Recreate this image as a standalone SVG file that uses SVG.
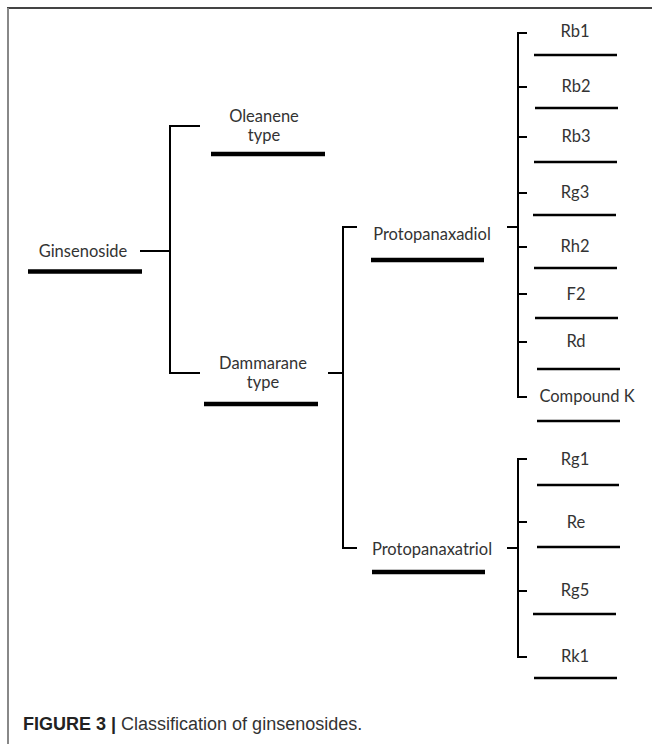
<svg xmlns="http://www.w3.org/2000/svg" width="652" height="744" viewBox="0 0 652 744">
<style>
.lbl{font-family:Lato,"Open Sans","DejaVu Sans",sans-serif;font-size:16.5px;fill:#333;text-anchor:middle}
.bar{stroke:#000;stroke-width:4.5;fill:none}
.leaf{stroke:#000;stroke-width:2.5;fill:none}
.con{stroke:#000;stroke-width:2;fill:none}
.cap{font-family:"Liberation Sans",Arial,sans-serif;font-size:18px;fill:#333}
</style>
<rect width="652" height="744" fill="#fff"/>
<line x1="7" y1="8" x2="652" y2="8" stroke="#444" stroke-width="2"/>
<line x1="8" y1="8" x2="8" y2="744" stroke="#888" stroke-width="2"/>

<g id="connectors">
<path class="con" d="M140,251H170M200,126H170V373H200"/>
<path class="con" d="M328,373H343M357,227H343V548H357"/>
<path class="con" d="M507,227H518M527,33H518V397H527M518,87H527M518,137H527M518,193H527M518,247H527M518,294H527M518,342H527"/>
<path class="con" d="M507,548H518M527,459H518V657H527M518,522H527M518,591H527"/>
</g>

<g id="ginsenoside"><text class="lbl" x="83" y="257">Ginsenoside</text><line class="bar" x1="28" y1="271.5" x2="142" y2="271.5"/></g>
<g id="oleanene"><text class="lbl" x="264" y="122">Oleanene</text><text class="lbl" x="264" y="141">type</text><line class="bar" x1="211" y1="154" x2="325" y2="154"/></g>
<g id="dammarane"><text class="lbl" x="263" y="369">Dammarane</text><text class="lbl" x="263" y="388">type</text><line class="bar" x1="204" y1="404" x2="318" y2="404"/></g>
<g id="ppd"><text class="lbl" x="432" y="240">Protopanaxadiol</text><line class="bar" x1="371" y1="260" x2="484" y2="260"/></g>
<g id="ppt"><text class="lbl" x="432" y="555">Protopanaxatriol</text><line class="bar" x1="372" y1="572" x2="485" y2="572"/></g>

<g id="rb1"><text class="lbl" x="575" y="37">Rb1</text><line class="leaf" x1="534" y1="55" x2="617" y2="55"/></g>
<g id="rb2"><text class="lbl" x="576" y="92">Rb2</text><line class="leaf" x1="535" y1="108" x2="618" y2="108"/></g>
<g id="rb3"><text class="lbl" x="576" y="142">Rb3</text><line class="leaf" x1="534" y1="162" x2="617" y2="162"/></g>
<g id="rg3"><text class="lbl" x="575" y="198">Rg3</text><line class="leaf" x1="533" y1="215" x2="616" y2="215"/></g>
<g id="rh2"><text class="lbl" x="575" y="252">Rh2</text><line class="leaf" x1="534" y1="268" x2="617" y2="268"/></g>
<g id="f2"><text class="lbl" x="576" y="300">F2</text><line class="leaf" x1="535" y1="318" x2="618" y2="318"/></g>
<g id="rd"><text class="lbl" x="576" y="347">Rd</text><line class="leaf" x1="537" y1="369" x2="620" y2="369"/></g>
<g id="compoundk"><text class="lbl" x="587" y="402">Compound K</text><line class="leaf" x1="537" y1="421" x2="620" y2="421"/></g>

<g id="rg1"><text class="lbl" x="575" y="465">Rg1</text><line class="leaf" x1="537" y1="485" x2="619" y2="485"/></g>
<g id="re"><text class="lbl" x="576" y="528">Re</text><line class="leaf" x1="537" y1="547" x2="620" y2="547"/></g>
<g id="rg5"><text class="lbl" x="575" y="596">Rg5</text><line class="leaf" x1="533" y1="614" x2="616" y2="614"/></g>
<g id="rk1"><text class="lbl" x="575" y="662">Rk1</text><line class="leaf" x1="534" y1="678" x2="617" y2="678"/></g>

<text class="cap" x="23" y="730"><tspan font-weight="bold" fill="#222">FIGURE 3 |</tspan> Classification of ginsenosides.</text>
</svg>
